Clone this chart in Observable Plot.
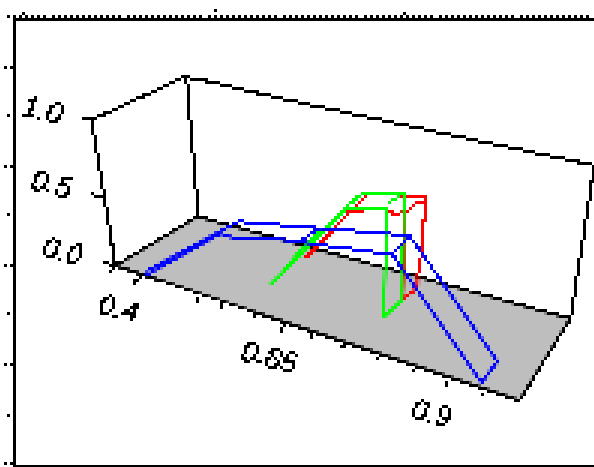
<!DOCTYPE html>
<html><head><meta charset="utf-8">
<script src="https://cdn.jsdelivr.net/npm/d3@7"></script>
<script src="https://cdn.jsdelivr.net/npm/@observablehq/plot@0.6"></script>
<style>html,body{margin:0;padding:0;background:#fff}svg{display:block}</style>
</head><body><div id="chart"></div>
<script>
// Values, in the chart's projected plane
const floorX = [114,197,570,519];
const floorY = [266,216,318,400];

const boxPaths = [
  [[82,118],[92,119],[183,77],[195,78],[294,101],[594,165]],
  [[91,120],[115,265]],
  [[186,78],[198,217]],
  [[115,265],[197,216],[570,318],[519,400],[115,265]],
  [[570,318],[594,165]],
  [[91,194],[105,197]],
  [[104,262],[115,265]],
  [[111,270],[116,265]]
];
const floorTicks = [
  [[133,282],[140,277]],[[196,297],[197,300]],[[220,305],[221,307]],[[253,314],[254,316]],
  [[280,330],[285,323]],[[311,335],[312,337]],[[343,346],[341,347]],[[377,358],[376,359]],
  [[414,370],[413,371]],[[447,381],[447,385]],[[483,393],[483,394]]
];
const redPath = [[305,256],[348,212],[366,209],[388,209],[392,213],[405,212],[402,298],[417,288],[418,260],[422,257],[422,220],[425,220],[425,197],[398,197],[396,194],[366,194],[333,229],[307,256]];
const redInner = [[405,212],[415,203],[425,200]];
const greenPath = [[271,283],[348,207],[387,207],[383,317],[402,299],[403,192],[363,192],[345,207],[300,250],[283,270]];
const greenInner = [[388,203],[403,192]];
const bluePath = [[147,270],[238,221],[260,223],[409,235],[497,361],[481,382],[392,254],[409,235]];
const blueLower = [[147,274],[220,233],[238,239],[280,239],[392,254]];
const blueStub = [[301,240],[318,228]];

const labels = ["1.0","0.5","0.0","0.4","0.85","0.9"];
const labelX = [42,51,62,118,269,431];
const labelY = [110,184,251,308,357,413];

const table = ps => ps.flatMap((p,i)=>p.map(([x,y])=>({x,y,i})));
const line = (ps,stroke,w) => Plot.line(table(ps),{x:"x",y:"y",z:"i",stroke:()=>stroke,strokeWidth:w,curve:"linear",strokeLinecap:"square",strokeLinejoin:"miter"});

const topMinor = d3.range(8,594,6.24);
const topMajor = [24,214,405];
const leftLong = [66,165,264,364,463];
const leftShort = [115,215,314,414];

const chart = Plot.plot({
  width:594,height:467,margin:0,
  x:{domain:[0,594],range:[0,594],axis:null},
  y:{domain:[0,467],range:[0,467],axis:null},
  style:{background:"#fff"},
  marks:[
    Plot.line(floorX.map((x,i)=>({x,y:floorY[i]})),{x:"x",y:"y",fill:"#bebebe",stroke:"none"}),
    line(boxPaths,"#000",3),
    line(floorTicks,"#000",3),
    line([[[14,20],[14,467]],[[14,20],[594,20]],[[14,466],[594,466]]],"#000",3),
    Plot.ruleX(topMinor,{x:d=>d,y1:()=>15,y2:()=>18,stroke:"#000",strokeWidth:3}),
    Plot.ruleX(topMajor,{x:d=>d,y1:d=>d===214?9:12,y2:d=>d===214?12:15,stroke:"#000",strokeWidth:3}),
    Plot.ruleY(leftLong,{y:d=>d,x1:()=>4,x2:()=>7,stroke:"#000",strokeWidth:3}),
    Plot.ruleY(leftLong,{y:d=>d,x1:()=>10,x2:()=>14,stroke:"#000",strokeWidth:3}),
    Plot.ruleY(leftShort,{y:d=>d,x1:()=>7,x2:()=>10,stroke:"#000",strokeWidth:3}),
    line([redPath,redInner],"#ff0000",3),
    line([greenPath,greenInner],"#00ff00",3),
    line([bluePath,blueLower,blueStub],"#0000ff",3),
    Plot.text(labels,{x:(d,i)=>labelX[i],y:(d,i)=>labelY[i],text:d=>d,rotate:14,fontSize:29,fontStyle:"italic",fontFamily:"Liberation Sans",fill:"#000",stroke:"#000",strokeWidth:0.5,textAnchor:"middle",lineAnchor:"middle"})
  ]
});
// Low-resolution look of the original: sample every third pixel and hold it.
const ns = "http://www.w3.org/2000/svg";
const defs = document.createElementNS(ns,"defs");
defs.innerHTML = `<filter id="pix" filterUnits="userSpaceOnUse" x="0" y="0" width="594" height="467" color-interpolation-filters="sRGB">
  <feFlood x="2" y="1" width="1" height="1" flood-color="#000"/>
  <feComposite x="0" y="0" width="3" height="3"/>
  <feTile result="grid"/>
  <feComposite in="SourceGraphic" in2="grid" operator="in"/>
  <feMorphology operator="dilate" radius="1"/>
  <feComponentTransfer><feFuncA type="discrete" tableValues="0 1"/></feComponentTransfer>
</filter>`;
const g = document.createElementNS(ns,"g");
g.setAttribute("filter","url(#pix)");
[...chart.childNodes].filter(n=>n.nodeName!=="style").forEach(n=>g.append(n));
chart.append(defs,g);
document.getElementById("chart").append(chart);
</script></body></html>
